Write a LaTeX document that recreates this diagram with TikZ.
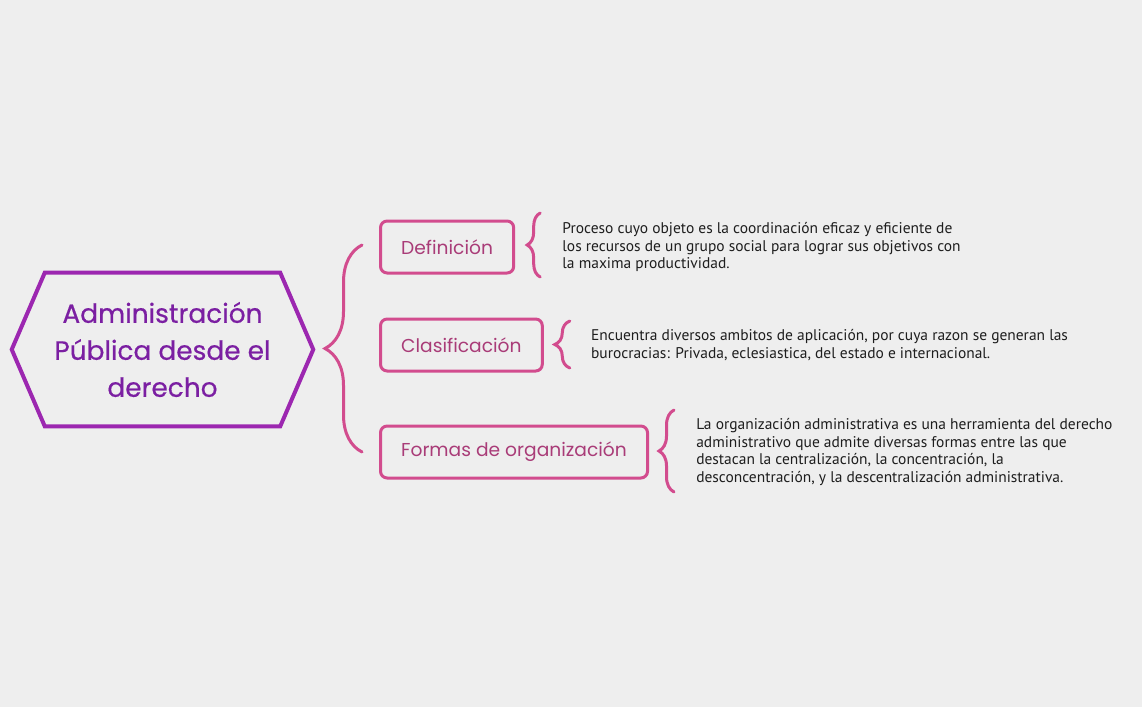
\documentclass[tikz,border=0pt]{standalone}
\usepackage{fontspec}
\setmainfont{PT Sans}
\newfontfamily\headfont{Poppins}
\newfontfamily\titlefont[FakeBold=0.5]{Poppins}
\usetikzlibrary{calc, positioning, decorations.pathreplacing}
\definecolor{bgcol}{HTML}{EEEEEE}
\definecolor{hexcol}{HTML}{9C27B0}
\definecolor{titlecol}{HTML}{7B1FA2}
\definecolor{pinkcol}{HTML}{D24C8E}
\definecolor{boxtxt}{HTML}{A93C78}
\definecolor{desctxt}{HTML}{1E1E1E}

\begin{document}
\begin{tikzpicture}[
    x=0.75pt, y=-0.75pt,
    node distance=35.25pt,
    topic/.style={rectangle, draw=pinkcol, line width=2.25pt, rounded corners=5pt, minimum height=39pt, inner xsep=15.5pt, font=\headfont\fontsize{14}{17}\selectfont, text=boxtxt, anchor=west},
    desc/.style={align=left, inner sep=0pt, font=\fontsize{11.6}{13.2}\selectfont, text=desctxt},
    curly/.style={decorate, decoration={brace, amplitude=#1}, draw=pinkcol, line width=2.25pt, line cap=round}
]
\fill[bgcol] (0,0) rectangle (1142,707);

% central hexagon
\node[minimum width=225.75pt, minimum height=114.75pt, inner sep=0pt, align=center, font=\titlefont\fontsize{19.8}{27.75}\selectfont, text=titlecol] (main) at (162.5,349.5) {Administración\\Pública desde el\\derecho};
\draw[hexcol, line width=3pt] (main.west) -- ($(main.north west)+(33,0)$) -- ($(main.north east)+(-33,0)$) -- (main.east) -- ($(main.south east)+(-33,0)$) -- ($(main.south west)+(33,0)$) -- cycle;

% topics
\node[topic] (def) at (379,247) {Definición};
\node[topic] (clas) at (379,345) {Clasificación};
\node[topic] (form) at (379,452) {Formas de organización};

\draw[curly=27.75pt] ($(form.west)+(-17,0)$) -- ($(def.west)+(-17,-2)$);

% descriptions
\node[desc, right=of def] (defd) {Proceso cuyo objeto es la coordinación eficaz y eficiente de\\los recursos de un grupo social para lograr sus objetivos con\\la maxima productividad.};
\node[desc, right=of clas] (clasd) {Encuentra diversos ambitos de aplicación, por cuya razon se generan las\\burocracias: Privada, eclesiastica, del estado e internacional.};
\node[desc, right=of form] (formd) {La organización administrativa es una herramienta del derecho\\administrativo que admite diversas formas entre las que\\destacan la centralización, la concentración, la\\desconcentración, y la descentralización administrativa.};

\draw[curly=9.75pt] ($(def.east)+(25,30)$) -- ($(def.east)+(25,-34)$);
\draw[curly=11.25pt] ($(clas.east)+(26,23)$) -- ($(clas.east)+(26,-24)$);
\draw[curly=11.25pt] ($(form.east)+(25,40)$) -- ($(form.east)+(25,-42)$);
\end{tikzpicture}
\end{document}
